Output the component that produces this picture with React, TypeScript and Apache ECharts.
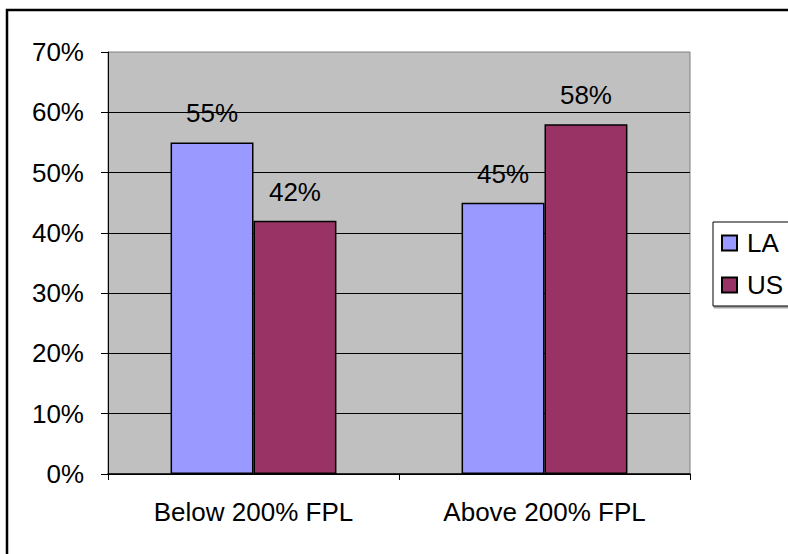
import React, { useEffect, useRef } from "react";
import * as echarts from "echarts";

const categories = ["Below 200% FPL", "Above 200% FPL"];
const laValues = [55, 45];
const usValues = [42, 58];
const seriesNames = ["LA", "US"];
const yTicks = { min: 0, max: 70, interval: 10 };

const FONT = "'Liberation Sans', Arial, sans-serif";
const FS = 26;

export default function App() {
  const ref = useRef<HTMLDivElement>(null);
  useEffect(() => {
    if (!ref.current) return;
    const chart = echarts.init(ref.current, undefined, { renderer: "svg" });
    const labelCfg = {
      show: true,
      position: "top",
      distance: 16,
      formatter: (p: any) => `${p.value}%`,
      fontFamily: FONT,
      fontSize: FS,
      color: "#000",
    };
    chart.setOption({
      animation: false,
      backgroundColor: "#fff",
      textStyle: { fontFamily: FONT },
      graphic: [
        {
          type: "rect",
          z: -10,
          silent: true,
          shape: { x: 7, y: 10, width: 900, height: 700 },
          style: { fill: "#fff", stroke: "#000", lineWidth: 2.5 },
        },
        {
          type: "rect",
          z: -5,
          silent: true,
          shape: { x: 713, y: 222, width: 100, height: 84 },
          style: {
            fill: "#fff",
            stroke: "#000",
            lineWidth: 1,
            shadowColor: "rgba(0,0,0,0.35)",
            shadowOffsetX: 1,
            shadowOffsetY: 2,
            shadowBlur: 0,
          },
        },
      ],
      legend: {
        orient: "vertical",
        left: 721,
        top: 229,
        padding: 0,
        itemWidth: 15,
        itemHeight: 15,
        itemGap: 14,
        icon: "rect",
        textStyle: {
          fontFamily: FONT,
          fontSize: FS,
          color: "#000",
          lineHeight: 28,
          padding: [0, 0, 0, 5],
        },
        data: seriesNames,
      },
      grid: {
        left: 108,
        top: 52,
        right: 98,
        bottom: 80,
        show: true,
        backgroundColor: "#C0C0C0",
        borderColor: "#808080",
        borderWidth: 1,
      },
      xAxis: {
        type: "category",
        data: categories,
        axisLine: { show: true, lineStyle: { color: "#000", width: 1.5 } },
        axisTick: { show: true, length: 6, lineStyle: { color: "#000" } },
        axisLabel: {
          fontFamily: FONT,
          fontSize: FS,
          color: "#000",
          margin: 25,
        },
      },
      yAxis: {
        type: "value",
        min: yTicks.min,
        max: yTicks.max,
        interval: yTicks.interval,
        axisLine: { show: true, lineStyle: { color: "#000", width: 1 } },
        axisTick: { show: true, length: 7, lineStyle: { color: "#000" } },
        axisLabel: {
          fontFamily: FONT,
          fontSize: FS,
          color: "#000",
          margin: 24,
          formatter: "{value}%",
        },
        splitLine: {
          show: true,
          showMaxLine: false,
          lineStyle: { color: "#000", width: 1 },
        },
      },
      series: [
        {
          name: seriesNames[0],
          type: "bar",
          data: laValues,
          barGap: "0%",
          barCategoryGap: "43%",
          itemStyle: { color: "#9999FF", borderColor: "#000", borderWidth: 1.5 },
          label: labelCfg,
        },
        {
          name: seriesNames[1],
          type: "bar",
          data: usValues,
          barGap: "0%",
          barCategoryGap: "43%",
          itemStyle: { color: "#993366", borderColor: "#000", borderWidth: 1.5 },
          label: labelCfg,
        },
      ],
    });
    return () => chart.dispose();
  }, []);
  return (
    <div
      ref={ref}
      style={{ position: "absolute", left: 0, top: 0, width: 788, height: 554 }}
    />
  );
}
